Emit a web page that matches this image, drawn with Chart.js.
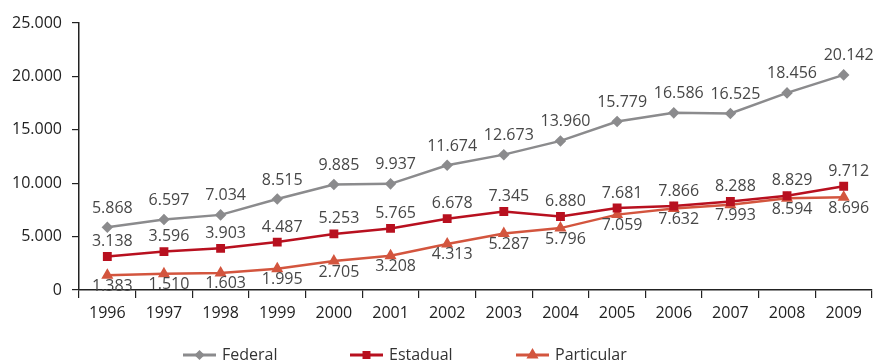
<!DOCTYPE html>
<html>
<head>
<meta charset="utf-8">
<script src="https://cdn.jsdelivr.net/npm/chart.js@4"></script>
<style>
  html, body { margin: 0; padding: 0; background: #fff; }
  #wrap { width: 879px; height: 364px; }
</style>
</head>
<body>
<div id="wrap"><canvas id="grafico" width="879" height="364"></canvas></div>
<script>
// Anos e séries
const anos = ['1996', '1997', '1998', '1999', '2000', '2001', '2002', '2003', '2004', '2005', '2006', '2007', '2008', '2009'];
const federal = [5868, 6597, 7034, 8515, 9885, 9937, 11674, 12673, 13960, 15779, 16586, 16525, 18456, 20142];
const estadual = [3138, 3596, 3903, 4487, 5253, 5765, 6678, 7345, 6880, 7681, 7866, 8288, 8829, 9712];
const particular = [1383, 1510, 1603, 1995, 2705, 3208, 4313, 5287, 5796, 7059, 7632, 7993, 8594, 8696];
const ticksY = [0, 5000, 10000, 15000, 20000, 25000];

const fonte = '"Open Sans", "Noto Sans", sans-serif';

function fmt(v) {
    return v.toLocaleString('pt-BR');
}

// rótulos de valor: acima para Federal/Estadual, abaixo para Particular
const rotulos = {
    id: 'rotulos',
    afterDatasetsDraw(chart) {
        const ctx = chart.ctx;
        ctx.save();
        ctx.font = '16px ' + fonte;
        ctx.fillStyle = '#474747';
        ctx.textAlign = 'center';
        ctx.textBaseline = 'middle';
        chart.data.datasets.forEach((ds, i) => {
            const meta = chart.getDatasetMeta(i);
            meta.data.forEach((pt, j) => {
                ctx.fillText(fmt(ds.data[j]), pt.x + 5, pt.y + ds.desloc);
            });
        });
        ctx.restore();
    }
};

// legenda embaixo: linha com marcador pequeno no meio
const legenda = {
    id: 'legenda',
    afterDraw(chart) {
        const ctx = chart.ctx;
        const xs = [183, 350, 516];
        const raios = [3, 3.5, 4];
        const y = 355;
        ctx.save();
        chart.data.datasets.forEach((ds, i) => {
            const x = xs[i];
            ctx.strokeStyle = ds.borderColor;
            ctx.lineWidth = 3;
            ctx.beginPath();
            ctx.moveTo(x, y);
            ctx.lineTo(x + 33, y);
            ctx.stroke();
            Chart.helpers.drawPoint(ctx, {
                pointStyle: ds.pointStyle,
                radius: raios[i],
                borderWidth: 1
            }, x + 16.5, y);
            ctx.fillStyle = ds.borderColor;
            ctx.fill();
            ctx.font = '16px ' + fonte;
            ctx.fillStyle = '#333';
            ctx.textAlign = 'left';
            ctx.textBaseline = 'middle';
            ctx.fillText(ds.label, x + 39, y);
        });
        ctx.restore();
    }
};

const ctx = document.getElementById('grafico').getContext('2d');
const chart = new Chart(ctx, {
    type: 'line',
    data: {
        labels: anos,
        datasets: [
            {
                label: 'Federal',
                data: federal,
                borderColor: '#8b8b8d',
                backgroundColor: '#8b8b8d',
                borderWidth: 2.5,
                pointStyle: 'rectRot',
                pointRadius: 4,
                desloc: -19
            },
            {
                label: 'Estadual',
                data: estadual,
                borderColor: '#b8101f',
                backgroundColor: '#b8101f',
                borderWidth: 2.5,
                pointStyle: 'rect',
                pointRadius: 4.5,
                desloc: -15
            },
            {
                label: 'Particular',
                data: particular,
                borderColor: '#d3553e',
                backgroundColor: '#d3553e',
                borderWidth: 2.5,
                pointStyle: 'triangle',
                pointRadius: 4.5,
                desloc: 11
            }
        ]
    },
    options: {
        responsive: false,
        animation: false,
        layout: { padding: { top: 23, right: 5, left: 0, bottom: 0 } },
        plugins: {
            legend: { display: false },
            tooltip: { enabled: false }
        },
        elements: { line: { tension: 0 } },
        scales: {
            x: {
                offset: true,
                grid: {
                    offset: true,
                    drawOnChartArea: false,
                    tickLength: 8,
                    color: '#222',
                    lineWidth: 1.2
                },
                border: { color: '#222', width: 1.5 },
                ticks: {
                    color: '#222',
                    font: { family: fonte, size: 16 },
                    padding: 6,
                    maxRotation: 0
                },
                afterFit(scale) { scale.height = 74; }
            },
            y: {
                min: 0,
                max: 25000,
                afterBuildTicks(scale) {
                    scale.ticks = ticksY.map(v => ({ value: v }));
                },
                grid: {
                    drawOnChartArea: false,
                    tickLength: 7,
                    color: '#222',
                    lineWidth: 1.2
                },
                border: { color: '#222', width: 1.5 },
                ticks: {
                    color: '#222',
                    font: { family: fonte, size: 16 },
                    padding: 10,
                    callback: v => fmt(v)
                },
                afterFit(scale) { scale.width = 79; }
            }
        }
    },
    plugins: [rotulos, legenda]
});
</script>
</body>
</html>
